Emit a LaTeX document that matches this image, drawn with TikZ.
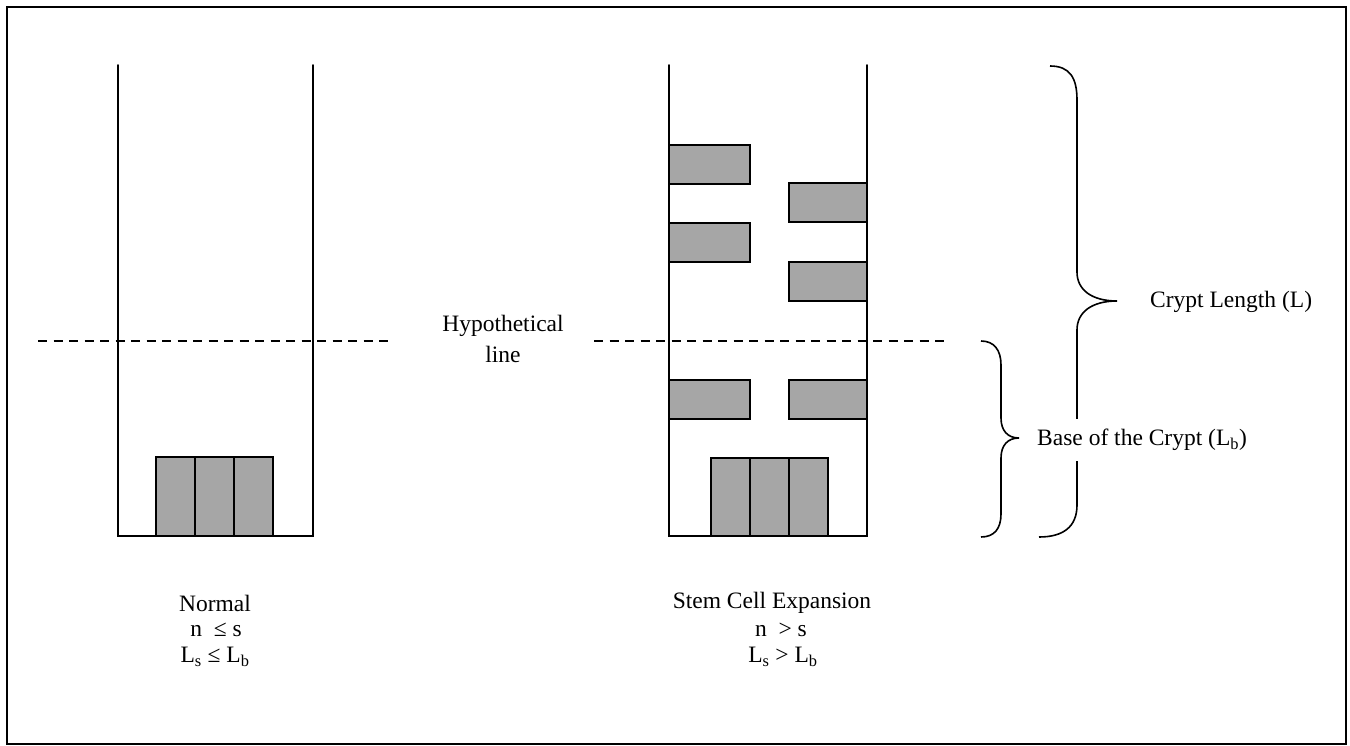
\documentclass[tikz,border=0pt]{standalone}
\usepackage{fontspec}
\setmainfont{Liberation Serif}
\begin{document}
\begin{tikzpicture}[x=1pt,y=-1pt,
  wall/.style={line width=1.6pt,line cap=round},
  cell/.style={draw=black,line width=1.4pt,fill=cellgray},
  hline/.style={line width=1.4pt,dash pattern=on 9pt off 6.5pt},
  brace/.style={line width=1.6pt},
  lbl/.style={font=\fontsize{23.5}{28}\selectfont,inner sep=0pt}]
\definecolor{cellgray}{HTML}{A6A6A6}
\useasboundingbox (0,0) rectangle (1350,746);
\draw[line width=2.4pt] (7,7) rectangle (1346,744);
% left crypt
\draw[wall] (118,65) -- (118,536) -- (313,536) -- (313,65);
\foreach \x in {156,195,234} \draw[cell] (\x,457) rectangle ++(39,79);
% right crypt
\draw[wall] (669,65) -- (669,536) -- (867,536) -- (867,65);
\foreach \x in {711,750,789} \draw[cell] (\x,458) rectangle ++(39,78);
\foreach \y in {145,223,380} \draw[cell] (669,\y) rectangle (750,\y+39);
\foreach \y in {183,262,380} \draw[cell] (789,\y) rectangle (867,\y+39);
% hypothetical lines
\draw[hline] (38,341) -- (392,341);
\draw[hline] (594,341) -- (946,341);
\node[lbl] (hyp1) at (503,326) {Hypothetical};
\node[lbl] (hyp2) at (503,354) {line};
% braces
\draw[brace] (1050,66) .. controls (1070,66) and (1077,78) .. (1077,100) -- (1077,272)
  .. controls (1077,290) and (1092,301) .. (1117,301)
  .. controls (1092,301) and (1077,312) .. (1077,330) -- (1077,505)
  .. controls (1077,527) and (1063,537) .. (1039,537);
\draw[brace] (981,341) .. controls (994,341) and (1001,350) .. (1001,365) -- (1001,418)
  .. controls (1001,431) and (1008,438) .. (1019,438)
  .. controls (1008,438) and (1001,445) .. (1001,458) -- (1001,514)
  .. controls (1001,529) and (994,537) .. (981,537);
\node[lbl,anchor=west] (clen) at (1150,302) {Crypt Length (L)};
\node[lbl,anchor=west,fill=white,inner ysep=10pt,inner xsep=2pt] (base) at (1035,440) {Base of the Crypt (L\textsubscript{b})};
% captions
\node[lbl] (n1) at (215,603) {Normal};
\node[lbl] (n2) at (216,630) {n\ \ ≤ s};
\node[lbl] (n3) at (215,657) {L\textsubscript{s} ≤ L\textsubscript{b}};
\node[lbl] (s1) at (772,603) {Stem Cell Expansion};
\node[lbl] (s2) at (781,630) {n\ \ > s};
\node[lbl] (s3) at (783,657) {L\textsubscript{s} > L\textsubscript{b}};
\end{tikzpicture}
\end{document}
